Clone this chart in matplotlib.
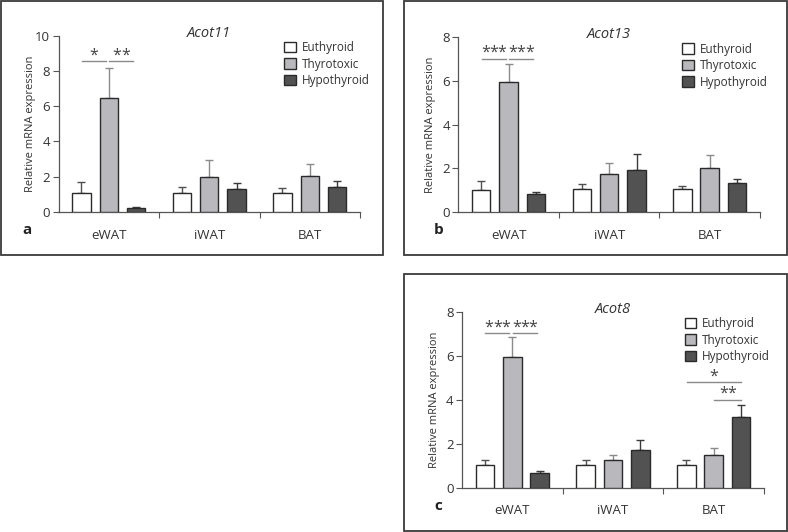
import matplotlib
matplotlib.use("Agg")
import matplotlib.pyplot as plt
from matplotlib.patches import Rectangle, Patch
import numpy as np

plt.rcParams['font.family'] = ['Open Sans', 'DejaVu Sans']

tissues = ["eWAT", "iWAT", "BAT"]
groups = ["Euthyroid", "Thyrotoxic", "Hypothyroid"]

# Acot11 (panel a)
acot11_mean = {"Euthyroid": [1.06, 1.05, 1.05],
               "Thyrotoxic": [6.47, 2.01, 2.07],
               "Hypothyroid": [0.21, 1.29, 1.44]}
acot11_err = {"Euthyroid": [0.62, 0.37, 0.31],
              "Thyrotoxic": [1.72, 0.94, 0.64],
              "Hypothyroid": [0.05, 0.34, 0.32]}
# Acot13 (panel b)
acot13_mean = {"Euthyroid": [0.99, 1.04, 1.04],
               "Thyrotoxic": [5.94, 1.76, 2.03],
               "Hypothyroid": [0.81, 1.94, 1.31]}
acot13_err = {"Euthyroid": [0.41, 0.26, 0.17],
              "Thyrotoxic": [0.85, 0.50, 0.60],
              "Hypothyroid": [0.09, 0.70, 0.19]}
# Acot8 (panel c)
acot8_mean = {"Euthyroid": [1.03, 1.02, 1.02],
              "Thyrotoxic": [5.95, 1.26, 1.47],
              "Hypothyroid": [0.67, 1.73, 3.21]}
acot8_err = {"Euthyroid": [0.21, 0.22, 0.22],
             "Thyrotoxic": [0.91, 0.21, 0.35],
             "Hypothyroid": [0.09, 0.42, 0.56]}

# significance: (tissue index, from bar, to bar, y level, number of stars)
sig_a = [(0, 0, 1, 8.55, 1), (0, 1, 2, 8.55, 2)]
sig_b = [(0, 0, 1, 7.02, 3), (0, 1, 2, 7.02, 3)]
sig_c = [(0, 0, 1, 7.02, 3), (0, 1, 2, 7.02, 3),
         (2, 0, 2, 4.80, 1), (2, 1, 2, 3.99, 2)]

fill = {"Euthyroid": "#ffffff", "Thyrotoxic": "#b9b9bd", "Hypothyroid": "#525252"}
ecol = {"Euthyroid": "#505050", "Thyrotoxic": "#8a8a8a", "Hypothyroid": "#3a3a3a"}

W, H = 788, 532
fig = plt.figure(figsize=(W / 100, H / 100), dpi=100)

# panel frames (pixel boxes)
for (x0, y0, x1, y1) in [(1, 1, 383, 255), (404, 1, 787, 255), (404, 274, 787, 531)]:
    fig.patches.append(Rectangle((x0 / W, 1 - y1 / H), (x1 - x0) / W, (y1 - y0) / H,
                                 transform=fig.transFigure, fill=False,
                                 edgecolor="#3a3a3a", linewidth=1.3))

def px_axes(left, right, ybottom, ytop):
    return [left / W, 1 - ybottom / H, (right - left) / W, (ybottom - ytop) / H]

bw = 0.184
off = 0.272
offsets = [-off, 0, off]
star_step = 6.0  # points between stars

def draw(rect, means, errs, ymax, title, letter, sigs, leg_xy, ylab_x, letter_x):
    ax = fig.add_axes(rect)
    x = np.arange(len(tissues))
    for gi, g in enumerate(groups):
        ax.bar(x + offsets[gi], means[g], width=bw, color=fill[g], edgecolor="#2a2a2a",
               linewidth=1.0, zorder=3, label=g)
        ax.errorbar(x + offsets[gi], means[g], yerr=[np.zeros(len(x)), errs[g]], fmt="none",
                    ecolor=ecol[g], elinewidth=1.0, capsize=3.2, capthick=1.0, zorder=2)
    ax.set_xlim(-0.5, 2.5)
    ax.set_ylim(0, ymax)
    ax.set_yticks(np.arange(0, ymax + 0.1, 2))
    ax.set_xticks([0.5, 1.5, 2.5])
    ax.set_xticklabels([])
    ax.set_xticks(x, minor=True)
    ax.set_xticklabels(tissues, minor=True)
    ax.tick_params(axis="x", which="minor", length=0, pad=12, labelsize=9.5, colors="#333333")
    ax.tick_params(axis="x", which="major", length=4, width=0.8, color="#555555")
    ax.tick_params(axis="y", length=4, width=0.8, color="#555555", labelsize=9.5,
                   labelcolor="#333333", pad=2)
    for s in ["top", "right"]:
        ax.spines[s].set_visible(False)
    for s in ["left", "bottom"]:
        ax.spines[s].set_color("#555555")
        ax.spines[s].set_linewidth(0.9)
    ax.set_ylabel("Relative mRNA expression", fontsize=8.0, color="#333333")
    ax.yaxis.set_label_coords(ylab_x, 0.5)
    ax.text(0.5, 1.015, title, transform=ax.transAxes, ha="center", va="center",
            fontsize=10.5, style="italic", color="#333333")
    ax.text(letter_x, -0.103, letter, transform=ax.transAxes, ha="left", va="center",
            fontsize=11, fontweight="bold", color="#222222")
    for (t, i, j, yv, n) in sigs:
        if t == 2:
            xa = t + offsets[i] + 0.008
            xb = t + offsets[j] + 0.001
        else:
            xa = t + offsets[i] + 0.004
            xb = t + offsets[j] - 0.03
        ax.plot([xa, xb], [yv, yv], color="#8a8a8a", lw=1.0, clip_on=False)
        xc = (xa + xb) / 2
        for k in range(n):
            dx = (k - (n - 1) / 2) * star_step
            ax.annotate("*", xy=(xc, yv), xytext=(dx, 4.2), textcoords="offset points",
                        ha="center", va="center", fontsize=11.5, color="#444444",
                        annotation_clip=False)
    handles = [Patch(facecolor=fill[g], edgecolor="#2a2a2a", linewidth=1.0) for g in groups]
    ax.legend(handles, groups, loc="upper left", bbox_to_anchor=leg_xy, frameon=False,
              fontsize=8.5, handlelength=1.0, handleheight=0.95, handletextpad=0.5,
              labelspacing=0.3, borderaxespad=0, borderpad=0, labelcolor="#333333")
    return ax

draw(px_axes(58.5, 360, 212, 35.7), acot11_mean, acot11_err, 10, "Acot11", "a",
     sig_a, (0.748, 0.97), -0.073, -0.12)
draw(px_axes(458.3, 760, 212, 37.3), acot13_mean, acot13_err, 8, "Acot13", "b",
     sig_b, (0.742, 0.97), -0.073, -0.083)
draw(px_axes(462, 764, 487.7, 311.7), acot8_mean, acot8_err, 8, "Acot8", "c",
     sig_c, (0.737, 0.97), -0.073, -0.092)

fig.savefig("out.png", dpi=100)
